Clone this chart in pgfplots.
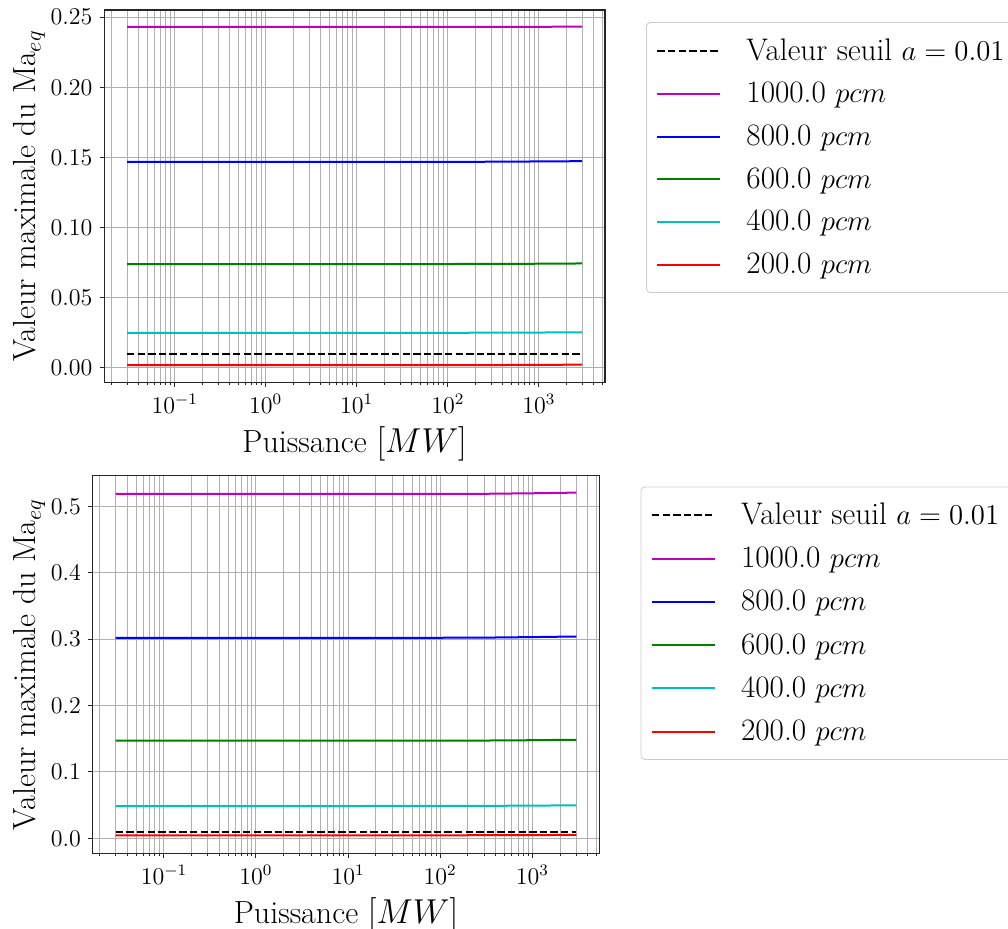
\documentclass[border=0pt]{standalone}
\usepackage{pgfplots}
\pgfplotsset{compat=1.18}
\definecolor{mplm}{rgb}{0.75,0,0.75}
\definecolor{mplb}{rgb}{0,0,1}
\definecolor{mplg}{rgb}{0,0.5,0}
\definecolor{mplc}{rgb}{0,0.75,0.75}
\definecolor{mplr}{rgb}{1,0,0}
\definecolor{gridgray}{rgb}{0.69,0.69,0.69}
\pgfplotsset{
  mystyle/.style={
    scale only axis,
    xmin=0.01687, xmax=5335,
    tick align=outside, tick pos=left,
    major tick length=2.4pt, minor tick length=1.3pt,
    xmajorgrids=true, xminorgrids=true, ymajorgrids=true,
    major grid style={gridgray, line width=0.5pt},
    minor grid style={gridgray, line width=0.5pt},
    axis line style={black!85, line width=0.6pt},
    every tick/.style={black!85, line width=0.5pt},
    tick label style={font=\fontsize{11.6}{13}\selectfont},
    label style={font=\fontsize{16}{19}\selectfont},
    ylabel style={yshift=-4pt},
    xlabel={Puissance $[MW]$},
    ylabel={Valeur maximale du Ma$_{eq}$},
    scaled y ticks=false,
    legend style={anchor=north west, draw=black!20, rounded corners=2pt,
      font=\fontsize{15.6}{18}\selectfont, row sep=5.5pt, inner xsep=5pt, inner ysep=6pt,
      /tikz/every odd column/.append style={column sep=10.5pt}},
    legend cell align=left,
    legend image code/.code={\draw[##1] (0pt,0pt) -- (31.5pt,0pt);},
    every axis plot/.append style={line width=1pt},
  }
}
\begin{document}
\begin{tikzpicture}
% ---------- top ----------
\begin{semilogxaxis}[mystyle,
  at={(52.15pt,273.35pt)}, anchor=south west,
  width=250.35pt, height=186.15pt,
  ymin=-0.0105, ymax=0.2552,
  ytick={0,0.05,0.10,0.15,0.20,0.25},
  yticklabel style={/pgf/number format/.cd, fixed, fixed zerofill, precision=2},
  legend style={at={(1.082,0.9674)}},
]
\addplot[black, dash pattern=on 3.7pt off 1.6pt] coordinates {(0.03,0.01) (3000,0.01)};
\addlegendentry{Valeur seuil $a=0.01$}
\addplot[mplm] coordinates {(0.03,0.2431) (0.1,0.2431) (1,0.2431) (10,0.2431) (100,0.2431) (300,0.2431) (1000,0.2432) (3000,0.2433)};
\addlegendentry{1000.0 $pcm$}
\addplot[mplb] coordinates {(0.03,0.1468) (0.1,0.1468) (1,0.1468) (10,0.1468) (100,0.1468) (300,0.1469) (1000,0.1471) (3000,0.1473)};
\addlegendentry{800.0 $pcm$}
\addplot[mplg] coordinates {(0.03,0.0739) (0.1,0.0739) (1,0.0739) (10,0.0739) (100,0.0739) (300,0.0740) (1000,0.0741) (3000,0.0743)};
\addlegendentry{600.0 $pcm$}
\addplot[mplc] coordinates {(0.03,0.0248) (0.1,0.0248) (1,0.0248) (10,0.0248) (100,0.0248) (300,0.0249) (1000,0.0250) (3000,0.0252)};
\addlegendentry{400.0 $pcm$}
\addplot[mplr] coordinates {(0.03,0.0017) (0.1,0.0017) (1,0.0017) (10,0.0017) (100,0.0017) (300,0.0018) (1000,0.0019) (3000,0.0021)};
\addlegendentry{200.0 $pcm$}
\end{semilogxaxis}
% ---------- bottom ----------
\begin{semilogxaxis}[mystyle,
  at={(46.35pt,37.85pt)}, anchor=south west,
  width=253.3pt, height=188.9pt,
  ymin=-0.0226, ymax=0.5464,
  ytick={0,0.1,0.2,0.3,0.4,0.5},
  yticklabel style={/pgf/number format/.cd, fixed, fixed zerofill, precision=1},
  legend style={at={(1.0817,0.9706)}, row sep=5.75pt},
]
\addplot[black, dash pattern=on 3.7pt off 1.6pt] coordinates {(0.03,0.01) (3000,0.01)};
\addlegendentry{Valeur seuil $a=0.01$}
\addplot[mplm] coordinates {(0.03,0.5186) (0.1,0.5186) (1,0.5186) (10,0.5186) (100,0.5187) (300,0.5188) (1000,0.5196) (3000,0.5206)};
\addlegendentry{1000.0 $pcm$}
\addplot[mplb] coordinates {(0.03,0.3019) (0.1,0.3019) (1,0.3019) (10,0.3019) (100,0.3020) (300,0.3022) (1000,0.3030) (3000,0.3039)};
\addlegendentry{800.0 $pcm$}
\addplot[mplg] coordinates {(0.03,0.1469) (0.1,0.1469) (1,0.1469) (10,0.1469) (100,0.1470) (300,0.1472) (1000,0.1477) (3000,0.1484)};
\addlegendentry{600.0 $pcm$}
\addplot[mplc] coordinates {(0.03,0.0486) (0.1,0.0486) (1,0.0486) (10,0.0486) (100,0.0487) (300,0.0488) (1000,0.0492) (3000,0.0496)};
\addlegendentry{400.0 $pcm$}
\addplot[mplr] coordinates {(0.03,0.0045) (0.1,0.0045) (1,0.0045) (10,0.0045) (100,0.0045) (300,0.0046) (1000,0.0048) (3000,0.0051)};
\addlegendentry{200.0 $pcm$}
\end{semilogxaxis}
\pgfresetboundingbox
\path[use as bounding box] (0pt,0pt) rectangle (504pt,464.5pt);
\end{tikzpicture}
\end{document}
